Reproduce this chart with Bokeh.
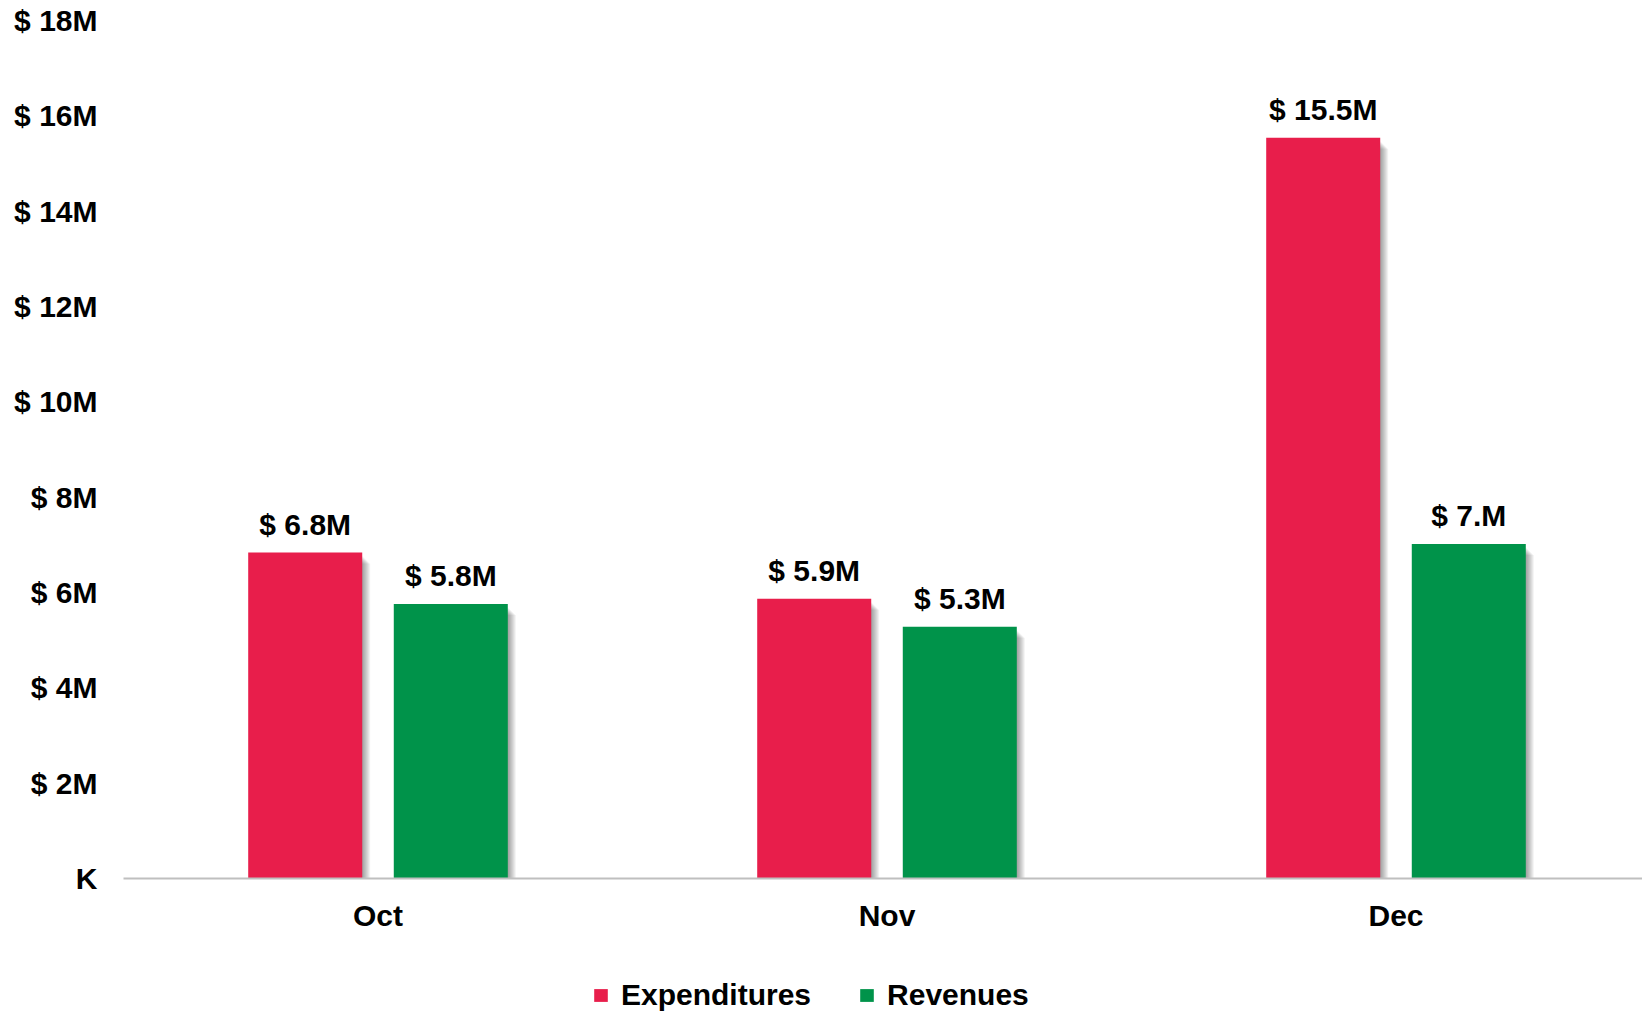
import numpy as np
from bokeh.plotting import figure
from bokeh.layouts import column
from bokeh.models import FixedTicker, Range1d, ColumnDataSource, LabelSet, Legend, LegendItem
from bokeh.core.properties import value
from bokeh.embed import file_html
from bokeh.resources import INLINE

# ---- data ----
months = ["Oct", "Nov", "Dec"]
expenditures = [6.84, 5.87, 15.54]   # $ millions
revenues = [5.76, 5.28, 7.02]        # $ millions
series_names = ["Expenditures", "Revenues"]
series_colors = ["#E81E4B", "#00934A"]
y_ticks = [0, 2, 4, 6, 8, 10, 12, 14, 16, 18]
y_tick_labels = ["K", "$ 2M", "$ 4M", "$ 6M", "$ 8M", "$ 10M", "$ 12M", "$ 14M", "$ 16M", "$ 18M"]

# ---- layout ----
W = 1642
H1, H2 = 940, 72
ML, MR, MT, MB = 123, 0, 20, 62
CAT_PX = 509.0
frame_w = W - ML - MR
frame_h = H1 - MT - MB
px_x = 1.0 / CAT_PX
px_y = 18.0 / frame_h
FONT = "Liberation Sans"

p = figure(width=W, height=H1, x_range=Range1d(0, frame_w / CAT_PX), y_range=Range1d(0, 18),
           output_backend="svg", toolbar_location=None,
           min_border_left=ML, min_border_right=MR, min_border_top=MT, min_border_bottom=MB)
p.outline_line_color = None
p.xgrid.visible = False
p.ygrid.visible = False
p.background_fill_color = "white"
p.border_fill_color = "white"

centers = [i + 0.5 for i in range(len(months))]
offset = 0.143
bw = 0.224
series = [expenditures, revenues]


def fmt(v):
    t = f"{v:.1f}"
    if t.endswith("0"):
        t = t[:-1]
    return f"$ {t}M"


for s, (vals, col) in enumerate(zip(series, series_colors)):
    xs = [c + (-offset if s == 0 else offset) for c in centers]
    # soft drop shadow to the right of each bar
    for k in range(1, 9):
        p.vbar(x=[x + k * px_x for x in xs], top=[v - (k + 3) * px_y for v in vals], bottom=0,
               width=bw, fill_color="black", fill_alpha=0.05, line_color=None)
    p.vbar(x=xs, top=vals, bottom=0, width=bw, fill_color=col, line_color=None)
    src = ColumnDataSource(dict(x=xs, y=vals, text=[fmt(v) for v in vals]))
    p.add_layout(LabelSet(x="x", y="y", text="text", source=src, y_offset=28,
                          text_align="center", text_baseline="middle",
                          text_font=value(FONT), text_font_size="30px", text_font_style="bold",
                          text_color="black"))

# axes
p.xaxis.ticker = FixedTicker(ticks=centers)
p.xaxis.major_label_overrides = {c: m for c, m in zip(centers, months)}
p.xaxis.axis_line_color = "#BFBFBF"
p.xaxis.axis_line_width = 2
p.xaxis.major_tick_line_color = None
p.xaxis.minor_tick_line_color = None
p.xaxis.major_tick_out = 0
p.xaxis.major_tick_in = 0
p.xaxis.major_label_standoff = 20
p.xaxis.major_label_text_font = FONT
p.xaxis.major_label_text_font_size = "30px"
p.xaxis.major_label_text_font_style = "bold"
p.xaxis.major_label_text_color = "black"

p.yaxis.ticker = FixedTicker(ticks=y_ticks)
p.yaxis.major_label_overrides = {t: l for t, l in zip(y_ticks, y_tick_labels)}
p.yaxis.axis_line_color = None
p.yaxis.major_tick_line_color = None
p.yaxis.minor_tick_line_color = None
p.yaxis.major_tick_out = 0
p.yaxis.major_tick_in = 0
p.yaxis.major_label_standoff = 26
p.yaxis.major_label_text_font = FONT
p.yaxis.major_label_text_font_size = "30px"
p.yaxis.major_label_text_font_style = "bold"
p.yaxis.major_label_text_color = "black"

# ---- legend strip ----
q = figure(width=W, height=H2, x_range=Range1d(0, 1), y_range=Range1d(0, 1),
           output_backend="svg", toolbar_location=None, x_axis_type=None, y_axis_type=None,
           min_border_left=ML, min_border_right=0, min_border_top=0, min_border_bottom=0)
q.outline_line_color = None
q.xgrid.visible = False
q.ygrid.visible = False
q.border_fill_color = "white"
# legend swatches only (NaN data: nothing drawn in the plot area)
dummies = [q.vbar(x=np.array([np.nan]), top=np.array([np.nan]), width=0.1,
                  fill_color=c, line_color=None) for c in series_colors]
legend = Legend(items=[LegendItem(label=n, renderers=[r]) for n, r in zip(series_names, dummies)],
                location=(592 - ML, 0), orientation="horizontal",
                glyph_width=17, glyph_height=16, label_standoff=12, spacing=47,
                padding=0, margin=0, border_line_color=None, background_fill_alpha=0,
                label_text_font=FONT, label_text_font_size="30px", label_text_font_style="bold",
                label_text_color="black")
q.add_layout(legend, "center")

layout = column(p, q, spacing=0)
open("out.html", "w").write(file_html(layout, INLINE))
